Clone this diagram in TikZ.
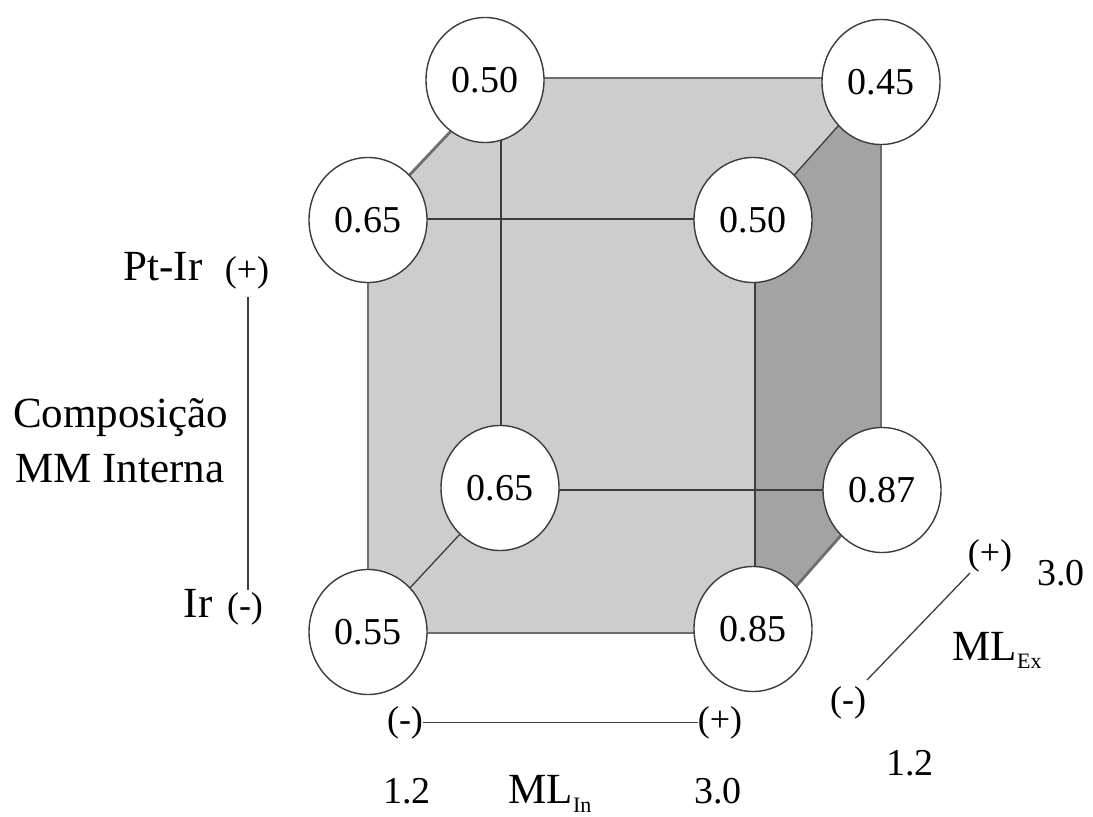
\documentclass[tikz,border=0pt]{standalone}
\usepackage{fontspec}
\setmainfont{Liberation Serif}
\usetikzlibrary{shapes.geometric}
\definecolor{facelight}{RGB}{205,205,205}
\definecolor{facedark}{RGB}{163,163,163}
\definecolor{edgegray}{RGB}{110,110,110}
\definecolor{linedark}{RGB}{60,60,60}
\begin{document}
\begin{tikzpicture}[x=1pt,y=-1pt,
  corner/.style={ellipse, draw=linedark, line width=1.4pt, fill=white,
    minimum width=118pt, minimum height=125pt, inner sep=0pt,
    font=\fontsize{38}{44}\selectfont},
  outer/.style={draw=edgegray, line width=2.8pt},
  inner/.style={draw=linedark, line width=1.3pt},
  lbl/.style={inner sep=0pt, font=\fontsize{43}{55}\selectfont, anchor=base},
  sgn/.style={inner sep=0pt, font=\fontsize{36}{40}\selectfont, anchor=base},
  num/.style={inner sep=0pt, font=\fontsize{38}{44}\selectfont, anchor=base},
  subs/.style={inner sep=0pt, font=\fontsize{22}{26}\selectfont, anchor=base west},
  axis/.style={draw=linedark, line width=1.3pt}]
\useasboundingbox (0,0) rectangle (1093,817);

% cube corners
\coordinate (FTL) at (368,219);
\coordinate (FTR) at (755,219);
\coordinate (FBL) at (368,633);
\coordinate (FBR) at (755,633);
\coordinate (BTL) at (501,78);
\coordinate (BTR) at (881,78);
\coordinate (BBL) at (501,490);
\coordinate (BBR) at (881,490);

% faces
\fill[facelight] (FBL) -- (FTL) -- (BTL) -- (BTR) -- (BBR) -- (FBR) -- cycle;
\fill[facedark] (FTR) -- (BTR) -- (BBR) -- (FBR) -- cycle;

% inner edges
\draw[inner] (FTL) -- (FTR);
\draw[inner] (FTR) -- (FBR);
\draw[inner] (FTR) -- (BTR);
\draw[inner] (BTL) -- (BBL);
\draw[inner] (BBL) -- (BBR);
\draw[inner] (FBL) -- (BBL);
% outer edges
\draw[outer] (FBL) -- (FTL);
\draw[outer] (FTL) -- (BTL);
\draw[outer] (BTL) -- (BTR);
\draw[outer] (BTR) -- (BBR);
\draw[outer] (BBR) -- (FBR);
\draw[outer] (FBR) -- (FBL);

% corner values
\node[corner] (nBTL) at (485,80) {0.50};
\node[corner] (nBTR) at (881,82) {0.45};
\node[corner] (nFTL) at (368,220) {0.65};
\node[corner] (nFTR) at (753,220) {0.50};
\node[corner] (nBBL) at (500,488) {0.65};
\node[corner] (nBBR) at (882,490) {0.87};
\node[corner] (nFBL) at (368,632) {0.55};
\node[corner] (nFBR) at (753,629) {0.85};

% left axis
\node[lbl] (ptir) at (163,280) {Pt-Ir};
\node[sgn] (pL) at (247,281) {(+)};
\node[lbl, anchor=base west] (comp) at (13,427) {Composição};
\node[lbl, anchor=base west] (mmint) at (15,482) {MM Interna};
\node[lbl] (ir) at (198,617) {Ir};
\node[sgn] (mL) at (245,617) {(-)};
\coordinate (La) at (248,297);
\coordinate (Lb) at (248,590);
\draw[axis] (La) -- (Lb);

% bottom axis
\node[sgn] (mB) at (405,731) {(-)};
\node[sgn] (pB) at (720,731) {(+)};
\draw[axis] (mB.east) -- (mB.east -| pB.west);
\node[num] (lowB) at (407,803) {1.2};
\node[lbl, anchor=base west] (mlin) at (508,803) {ML};
\node[subs, yshift=-9pt] (inB) at (mlin.base east) {In};
\node[num] (highB) at (718,803) {3.0};

% right axis
\node[sgn] (pR) at (990,564) {(+)};
\node[sgn] (mR) at (848,711) {(-)};
\coordinate (Ra) at (867,680);
\coordinate (Rb) at (970,573);
\draw[axis] (Ra) -- (Rb);
\node[num] (highR) at (1061,585) {3.0};
\node[lbl, anchor=base west] (mlex) at (952,660) {ML};
\node[subs, yshift=-8pt] (exR) at (mlex.base east) {Ex};
\node[num] (lowR) at (910,775) {1.2};
\end{tikzpicture}
\end{document}
